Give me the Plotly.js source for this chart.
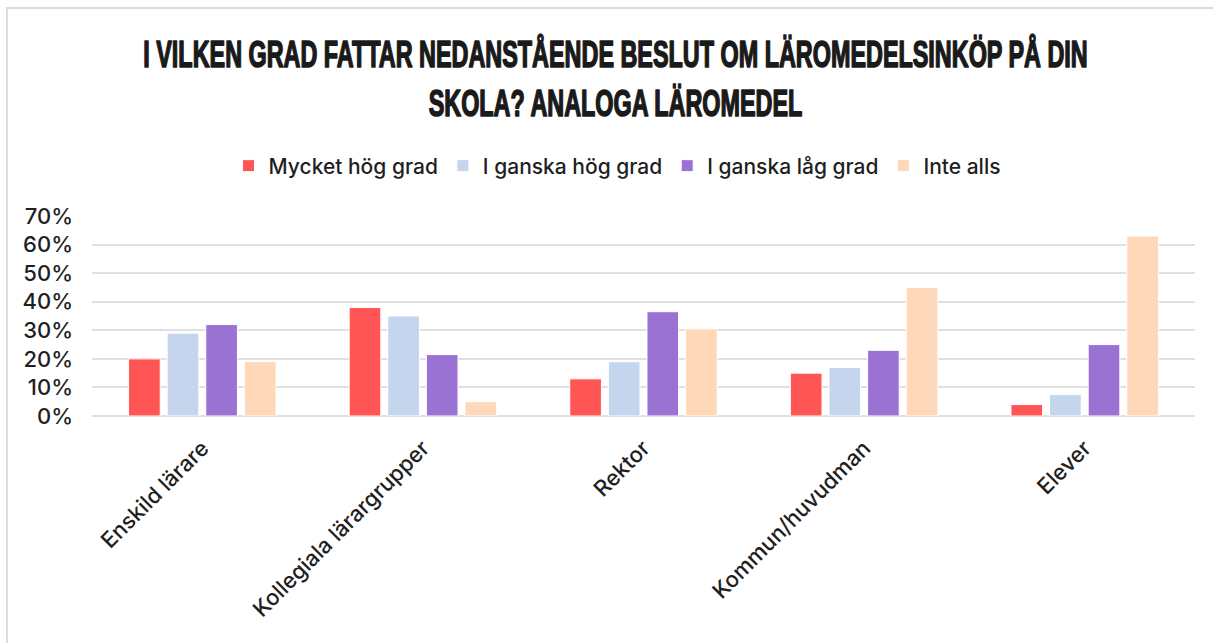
<!DOCTYPE html>
<html>
<head>
<meta charset="utf-8">
<script src="https://cdn.plot.ly/plotly-3.0.1.min.js"></script>
<style>
  html, body { margin: 0; padding: 0; background: #fff; }
  #wrap { position: relative; width: 1213px; height: 643px; overflow: hidden; }
  #frame { position: absolute; left: 6px; top: 7px; width: 1300px; height: 700px;
           border-left: 2px solid #dcdcdc; border-top: 2px solid #dcdcdc; pointer-events: none; }
  #chart { position: absolute; left: 0; top: 0; width: 1213px; height: 643px; }
</style>
</head>
<body>
<div id="wrap">
  <div id="frame"></div>
  <div id="chart"></div>
</div>
<script>
const categories = ["Enskild lärare", "Kollegiala lärargrupper", "Rektor", "Kommun/huvudman", "Elever"];
const seriesNames = ["Mycket hög grad", "I ganska hög grad", "I ganska låg grad", "Inte alls"];
const mycketHogGrad = [20, 38, 13, 15, 4];
const ganskaHogGrad = [29, 35, 19, 17, 7.5];
const ganskaLagGrad = [32, 21.5, 36.5, 23, 25];
const inteAlls = [19, 5, 30.5, 45, 63];
const yTickVals = [0, 10, 20, 30, 40, 50, 60, 70];
const yTickText = ["0%", "10%", "20%", "30%", "40%", "50%", "60%", "70%"];

const colors = ["#FF5555", "#C5D5EE", "#9A72D4", "#FFD8B9"];
const values = [mycketHogGrad, ganskaHogGrad, ganskaLagGrad, inteAlls];

const traces = seriesNames.map((name, i) => ({
  type: "bar",
  name: name,
  x: categories,
  y: values[i],
  marker: { color: colors[i], line: { color: "#ffffff", width: 1 } },
  hoverinfo: "x+y+name"
}));

const labelFont = { family: "Inter, sans-serif", size: 22, color: "#1f1f1f", weight: 500 };

const layout = {
  width: 1213,
  height: 643,
  paper_bgcolor: "rgba(0,0,0,0)",
  plot_bgcolor: "rgba(0,0,0,0)",
  margin: { l: 92, r: 18, t: 216, b: 227 },
  barmode: "group",
  bargap: 0.3,
  bargroupgap: 0.18,
  title: {
    text: "I VILKEN GRAD FATTAR NEDANSTÅENDE BESLUT OM LÄROMEDELSINKÖP PÅ DIN<br>SKOLA? ANALOGA LÄROMEDEL",
    font: { family: "Liberation Sans, Arial, sans-serif", size: 37, color: "#1a1a1a", weight: "bold" },
    x: 0.507,
    xanchor: "center",
    y: 0.895,
    yanchor: "middle",
    yref: "container"
  },
  showlegend: true,
  legend: {
    orientation: "h",
    x: 0.476,
    xanchor: "center",
    y: 1.25,
    yanchor: "middle",
    font: { family: "Inter, sans-serif", size: 21, color: "#1f1f1f", weight: 500 },
    itemwidth: 30,
    traceorder: "normal"
  },
  xaxis: {
    type: "category",
    tickangle: -45,
    tickfont: labelFont,
    showgrid: false,
    zeroline: false,
    showline: false,
    ticks: "",
    ticklabelstandoff: 14,
    fixedrange: true
  },
  yaxis: {
    range: [0, 70],
    tickvals: yTickVals,
    ticktext: yTickText,
    tickfont: labelFont,
    showgrid: true,
    gridcolor: "#e0e0e0",
    gridwidth: 2,
    zeroline: true,
    zerolinecolor: "#e0e0e0",
    zerolinewidth: 2,
    showline: false,
    ticks: "",
    ticklabelstandoff: 18,
    fixedrange: true
  }
};

Plotly.newPlot("chart", traces, layout, { displayModeBar: false, staticPlot: true }).then(() => {
  const t = document.querySelector("#chart .gtitle");
  if (!t) return;
  t.style.stroke = "#1a1a1a";
  t.style.strokeWidth = "1.6px";
  t.style.strokeLinejoin = "round";
  const bb = t.getBBox();
  const targetWidth = 945, targetCenter = 615.5;
  const s = targetWidth / bb.width;
  const cx = bb.x + bb.width / 2;
  t.setAttribute("transform", `translate(${targetCenter},0) scale(${s},1) translate(${-cx},0)`);
});
</script>
</body>
</html>
